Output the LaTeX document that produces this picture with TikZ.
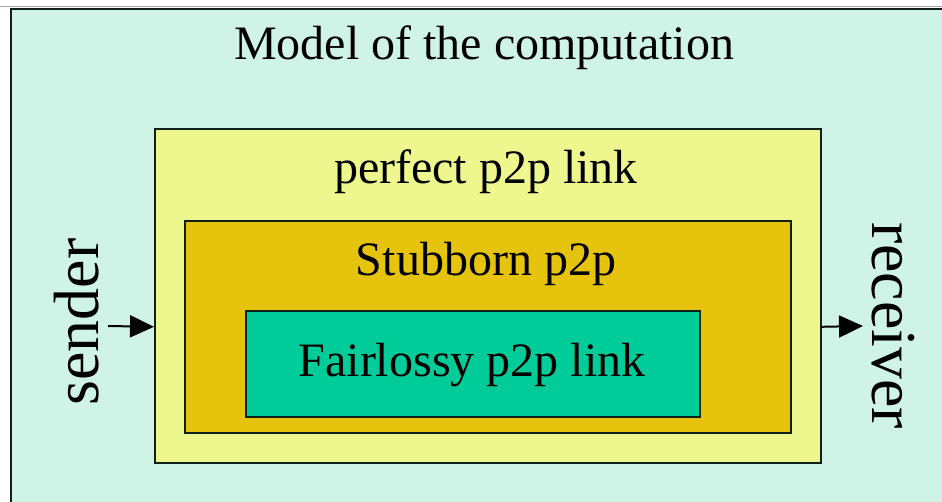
\documentclass[tikz,border=0pt]{standalone}
\usepackage{fontspec}
\setmainfont{Liberation Serif}
\usetikzlibrary{arrows.meta}
\definecolor{bgmint}{HTML}{CFF3E6}
\definecolor{paleyellow}{HTML}{EEF78E}
\definecolor{gold}{HTML}{E6C30C}
\definecolor{seagreen}{HTML}{00CC99}
\definecolor{edge}{HTML}{102018}
\tikzset{
  layer/.style={draw=edge, line width=1.6pt, anchor=north west, inner sep=0pt},
  label/.style={font=\fontsize{48}{50}\selectfont, inner sep=0pt},
  side/.style={font=\fontsize{64}{66}\selectfont, inner sep=0pt},
  arr/.style={-{Triangle[length=24pt,width=22pt]}, line width=2pt}
}
\begin{document}
\begin{tikzpicture}[x=1pt,y=-1pt]
  \useasboundingbox (0,0) rectangle (942,502);
  \fill[white] (0,0) rectangle (942,502);
  % outer frame of the model
  \draw[gray!70, line width=1pt] (0,7) -- (942,7);
  \begin{scope}
    \clip (0,0) rectangle (942,502);
    \draw[fill=bgmint, draw=edge, line width=2pt] (11,9) rectangle (960,520);
  \end{scope}
  \node[label] (title) at (484,48) {Model of the computation};
  % nested links
  \node[layer, fill=paleyellow, minimum width=666pt, minimum height=334pt] (perfect) at (154,128) {};
  \node[label] (perfectlbl) at (486,172) {perfect p2p link};
  \node[layer, fill=gold, minimum width=606pt, minimum height=212pt] (stubborn) at (184,220) {};
  \node[label] (stubbornlbl) at (486,264) {Stubborn p2p};
  \node[layer, fill=seagreen, minimum width=454pt, minimum height=106pt] (fair) at (245,310) {};
  \node[label] (fairlbl) at (472,365) {Fairlossy p2p link};
  % end points
  \node[side, rotate=90] (sender) at (77,322) {sender};
  \node[side, rotate=-90] (receiver) at (893,326) {receiver};
  \coordinate (sendout) at (108,326);
  \coordinate (recvin) at (863,326);
  \draw[arr] (sendout) -- (perfect.west |- stubborn.center);
  \draw[arr] (perfect.east |- stubborn.center) -- (recvin);
\end{tikzpicture}
\end{document}
